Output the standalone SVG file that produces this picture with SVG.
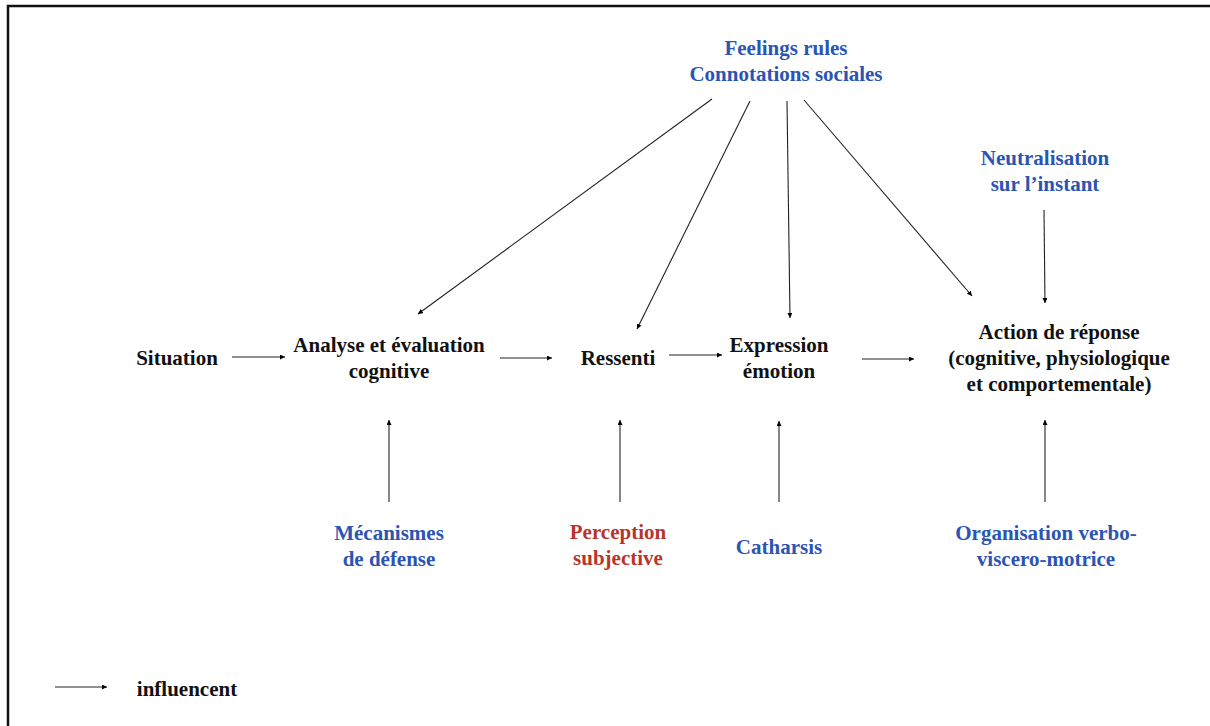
<svg xmlns="http://www.w3.org/2000/svg" width="1210" height="726" viewBox="0 0 1210 726">
<defs>
<marker id="ah" markerUnits="userSpaceOnUse" markerWidth="6" markerHeight="6" refX="5" refY="2.5" orient="auto">
<path d="M0,0 L5,2.5 L0,5 Z" fill="#000"/>
</marker>
<style>
text{font-family:"Liberation Serif","Times New Roman",serif;font-weight:bold;font-size:21px;text-anchor:middle;fill:#111}
.b{fill:#2b55b3}
.r{fill:#b8352c}
.c line{stroke:#222;stroke-width:1.1;marker-end:url(#ah)}
</style>
</defs>
<rect x="0" y="0" width="1210" height="726" fill="#fff"/>
<rect x="8" y="6" width="1230" height="760" fill="none" stroke="#111" stroke-width="2.5"/>
<g class="c" id="connectors">
<line x1="712" y1="99" x2="418" y2="314"/>
<line x1="750" y1="101" x2="637" y2="329"/>
<line x1="787" y1="101" x2="790" y2="318"/>
<line x1="804" y1="100" x2="972" y2="296"/>
<line x1="1044" y1="210" x2="1045" y2="303"/>
<line x1="232" y1="357" x2="285" y2="357"/>
<line x1="500" y1="358" x2="552" y2="358"/>
<line x1="669" y1="355" x2="722" y2="355"/>
<line x1="862" y1="359" x2="914" y2="359"/>
<line x1="389" y1="502" x2="389" y2="420"/>
<line x1="620" y1="502" x2="620" y2="420"/>
<line x1="779" y1="502" x2="779" y2="421"/>
<line x1="1045" y1="502" x2="1045" y2="420"/>
<line x1="55" y1="687" x2="107" y2="687"/>
</g>
<g id="feelings"><text class="b" x="786" y="55">Feelings rules</text><text class="b" x="786" y="81">Connotations sociales</text></g>
<g id="neutralisation"><text class="b" x="1045" y="165">Neutralisation</text><text class="b" x="1045" y="191">sur l’instant</text></g>
<g id="situation"><text x="177" y="365">Situation</text></g>
<g id="analyse"><text x="389" y="352">Analyse et évaluation</text><text x="389" y="378">cognitive</text></g>
<g id="ressenti"><text x="618" y="365">Ressenti</text></g>
<g id="expression"><text x="779" y="352">Expression</text><text x="779" y="378">émotion</text></g>
<g id="action"><text x="1059" y="339">Action de réponse</text><text x="1059" y="365">(cognitive, physiologique</text><text x="1059" y="391">et comportementale)</text></g>
<g id="mecanismes"><text class="b" x="389" y="540">Mécanismes</text><text class="b" x="389" y="566">de défense</text></g>
<g id="perception"><text class="r" x="618" y="539">Perception</text><text class="r" x="618" y="565">subjective</text></g>
<g id="catharsis"><text class="b" x="779" y="554">Catharsis</text></g>
<g id="organisation"><text class="b" x="1046" y="540">Organisation verbo-</text><text class="b" x="1046" y="566">viscero-motrice</text></g>
<g id="legend"><text x="187" y="696">influencent</text></g>
</svg>
